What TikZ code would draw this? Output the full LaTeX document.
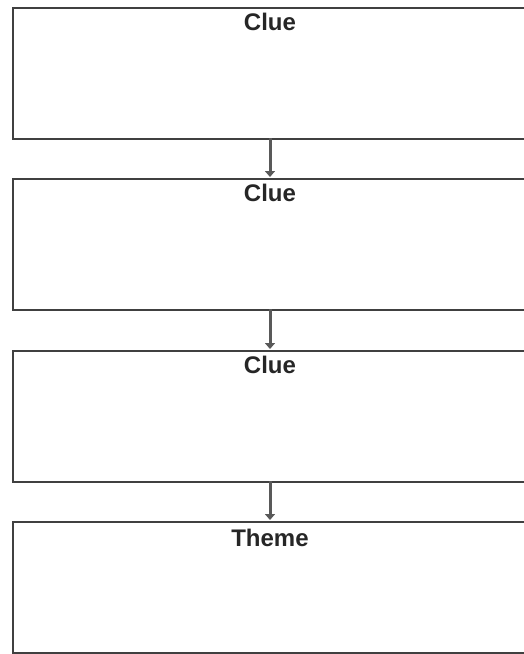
\documentclass[tikz,border=0pt]{standalone}
\usepackage{fontspec}
\setmainfont{Liberation Sans}
\usetikzlibrary{arrows.meta}
\begin{document}
\begin{tikzpicture}[x=1pt,y=-1pt,
  box/.style={draw=black!75, line width=2.3pt, fill=white, minimum width=518pt, minimum height=131pt, inner sep=0pt, anchor=north west},
  lbl/.style={font=\fontsize{24}{28}\selectfont\bfseries, text=black!85, anchor=base},
  conn/.style={draw=black!65, line width=3pt, -{Triangle[length=6pt,width=10pt]}, shorten >=1pt}]
\useasboundingbox (0,0) rectangle (524,654);
\clip (0,0) rectangle (524,654);
\node[box] (b1) at (12,7) {};
\node[box] (b2) at (12,178) {};
\node[box] (b3) at (12,350) {};
\node[box] (b4) at (12,521) {};
\node[lbl] (t1) at (270,30) {Clue};
\node[lbl] (t2) at (270,201) {Clue};
\node[lbl] (t3) at (270,373) {Clue};
\node[lbl] (t4) at (270,546) {Theme};
\coordinate (a1s) at (270,138);
\coordinate (a1e) at (270,178);
\coordinate (a2s) at (270,309);
\coordinate (a2e) at (270,350);
\coordinate (a3s) at (270,481);
\coordinate (a3e) at (270,521);
\draw[conn] (a1s) -- (a1e);
\draw[conn] (a2s) -- (a2e);
\draw[conn] (a3s) -- (a3e);
\end{tikzpicture}
\end{document}
